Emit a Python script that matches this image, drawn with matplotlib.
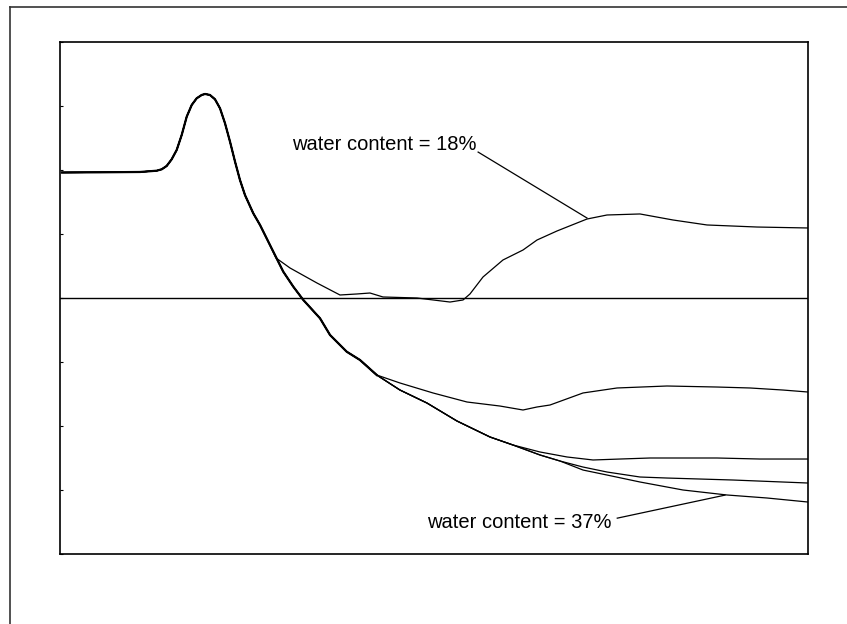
import matplotlib
matplotlib.use("Agg")
import matplotlib.pyplot as plt
from matplotlib.lines import Line2D

plt.rcParams['font.family'] = ['Liberation Sans', 'DejaVu Sans']

# shared start of all curves (flat, peak, first fall)
common_x = [0.27, 5.35, 10.70, 12.93, 13.60, 14.26, 14.93, 15.60, 16.27, 16.94, 17.61,
            18.27, 18.94, 19.39, 20.05, 20.72, 21.39, 22.06, 22.73, 23.40, 24.06,
            24.73, 25.84, 26.74, 28.07]
common_y = [1.961, 1.964, 1.969, 1.989, 2.011, 2.063, 2.167, 2.313, 2.547, 2.833, 3.016,
            3.120, 3.172, 3.188, 3.172, 3.105, 2.964, 2.730, 2.442, 2.130, 1.844,
            1.609, 1.323, 1.141, 0.828]

# water content = 18% branch
w18_x = [28.88, 30.75, 34.36, 37.43, 39.71, 41.44, 43.18, 45.45, 47.73, 52.14, 53.88,
         54.81, 56.55, 59.22, 61.90, 63.77, 66.44, 70.45, 73.13, 77.54, 81.95, 86.50,
         93.18, 100.0]
w18_y = [0.625, 0.469, 0.234, 0.047, 0.063, 0.078, 0.016, 0.008, 0.0, -0.063, -0.031,
         0.063, 0.328, 0.594, 0.750, 0.906, 1.047, 1.234, 1.297, 1.313, 1.219, 1.141,
         1.109, 1.094]

# trunk shared by the wetter samples
trunk1_x = [29.85, 31.19, 32.53, 34.76, 36.10, 38.33, 40.11, 42.34]
trunk1_y = [0.411, 0.177, -0.031, -0.317, -0.578, -0.839, -0.969, -1.203]
trunk2_x = [45.45, 49.06, 53.07, 57.49, 60.56]
trunk2_y = [-1.438, -1.641, -1.922, -2.172, -2.297]
trunk3_x = [64.17, 66.84]
trunk3_y = [-2.453, -2.547]

# second sample
s2_x = [45.45, 49.87, 54.41, 58.82, 61.90, 63.77, 65.51, 69.92, 74.47, 81.15, 87.83,
        92.25, 96.66, 100.0]
s2_y = [-1.328, -1.484, -1.625, -1.688, -1.750, -1.703, -1.672, -1.484, -1.406, -1.375,
        -1.391, -1.406, -1.438, -1.469]

# third sample
s3_x = [64.17, 67.78, 71.26, 74.87, 78.88, 87.83, 93.58, 100.0]
s3_y = [-2.406, -2.484, -2.531, -2.516, -2.500, -2.500, -2.516, -2.516]

# fourth sample
s4_x = [69.92, 73.13, 77.54, 81.15, 89.97, 100.0]
s4_y = [-2.641, -2.719, -2.797, -2.813, -2.844, -2.891]

# water content = 37%
w37_x = [69.92, 73.13, 77.54, 83.29, 89.17, 94.52, 100.0]
w37_y = [-2.688, -2.766, -2.875, -3.000, -3.078, -3.125, -3.188]

curves = [
    (common_x + w18_x, common_y + w18_y),
    (common_x + trunk1_x + s2_x, common_y + trunk1_y + s2_y),
    (common_x + trunk1_x + trunk2_x + s3_x, common_y + trunk1_y + trunk2_y + s3_y),
    (common_x + trunk1_x + trunk2_x + trunk3_x + s4_x,
     common_y + trunk1_y + trunk2_y + trunk3_y + s4_y),
    (common_x + trunk1_x + trunk2_x + trunk3_x + w37_x,
     common_y + trunk1_y + trunk2_y + trunk3_y + w37_y),
]

fig = plt.figure(figsize=(8.47, 6.24), dpi=100)
ax = fig.add_axes([60 / 847, 1 - 554 / 624, 748 / 847, 512 / 624])

for xs, ys in curves:
    ax.plot(xs, ys, color='black', lw=0.9)
# the common part looks heavier where the curves overlap
ax.plot(common_x + trunk1_x, common_y + trunk1_y, color='black', lw=1.6)

ax.axhline(0, color='black', lw=1.0)

# labels with leader lines
ax.text(31.0, 2.31, 'water content = 18%', fontsize=14.5, ha='left', va='baseline')
ax.plot([55.9, 70.45], [2.28, 1.25], color='black', lw=0.9)
ax.text(73.8, -3.594, 'water content = 37%', fontsize=14.5, ha='right', va='baseline')
ax.plot([74.5, 88.9], [-3.44, -3.08], color='black', lw=0.9)

ax.set_xlim(0, 100)
ax.set_ylim(-4, 4)
ax.set_xticks([])
ax.set_yticks(range(-4, 5))
ax.set_yticklabels([])
ax.tick_params(axis='y', direction='in', length=2, width=0.8, color='black')
for sp in ax.spines.values():
    sp.set_linewidth(1.2)
    sp.set_color('black')

# outer frame (only left and top edge show)
fig.add_artist(Line2D([10 / 847, 10 / 847], [1 - 7 / 624, 0], color='#333333', lw=1.2))
fig.add_artist(Line2D([10 / 847, 1], [1 - 7 / 624, 1 - 7 / 624], color='#333333', lw=1.2))

fig.savefig('out.png', dpi=100)
